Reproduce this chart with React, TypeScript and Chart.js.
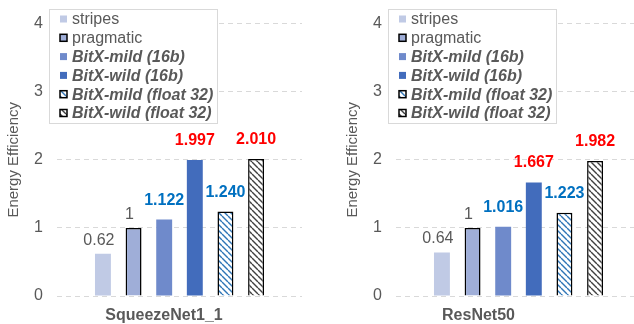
import React, { useEffect, useRef } from "react";
import { Chart, registerables } from "chart.js";

Chart.register(...registerables);

// ---------- data ----------
const CATEGORIES = ["SqueezeNet1_1", "ResNet50"];
const SERIES = [
  "stripes",
  "pragmatic",
  "BitX-mild (16b)",
  "BitX-wild (16b)",
  "BitX-mild (float 32)",
  "BitX-wild (float 32)",
];
const SQUEEZENET_VALUES = [0.62, 1, 1.122, 1.997, 1.24, 2.01];
const RESNET_VALUES = [0.64, 1, 1.016, 1.667, 1.223, 1.982];
const SQUEEZENET_LABELS = ["0.62", "1", "1.122", "1.997", "1.240", "2.010"];
const RESNET_LABELS = ["0.64", "1", "1.016", "1.667", "1.223", "1.982"];
const Y_MIN = 0;
const Y_MAX = 4;
const Y_STEP = 1;
const Y_TITLE = "Energy Efficiency";

// ---------- styles ----------
const FONT = "'Liberation Sans', Arial, sans-serif";
const GRAY = "#595959";

function makeHatch(color: string): CanvasPattern | string {
  const c = document.createElement("canvas");
  c.width = 6;
  c.height = 6;
  const ctx = c.getContext("2d");
  if (!ctx) return "#fff";
  ctx.fillStyle = "#ffffff";
  ctx.fillRect(0, 0, 6, 6);
  ctx.strokeStyle = color;
  ctx.lineWidth = 1.4;
  for (const o of [-6, 0, 6]) {
    ctx.beginPath();
    ctx.moveTo(o, 0);
    ctx.lineTo(o + 6, 6);
    ctx.stroke();
  }
  const p = ctx.createPattern(c, "repeat");
  return p || "#fff";
}

type SeriesStyle = {
  fill: () => any;
  border: string;
  borderWidth: number;
  labelColor: string;
  labelBold: boolean;
  italic: boolean;
};

const SERIES_STYLES: SeriesStyle[] = [
  { fill: () => "#C0CAE5", border: "#C0CAE5", borderWidth: 0, labelColor: GRAY, labelBold: false, italic: false },
  { fill: () => "#9FAED8", border: "#000000", borderWidth: 1.5, labelColor: GRAY, labelBold: false, italic: false },
  { fill: () => "#6F8ACB", border: "#6F8ACB", borderWidth: 0, labelColor: "#0070C0", labelBold: true, italic: true },
  { fill: () => "#426CBC", border: "#426CBC", borderWidth: 0, labelColor: "#FF0000", labelBold: true, italic: true },
  { fill: () => makeHatch("#2E75B6"), border: "#000000", borderWidth: 1.5, labelColor: "#0070C0", labelBold: true, italic: true },
  { fill: () => makeHatch("#404040"), border: "#000000", borderWidth: 1.5, labelColor: "#FF0000", labelBold: true, italic: true },
];

const valueLabelPlugin = {
  id: "valueLabels",
  afterDatasetsDraw(chart: any) {
    const ctx = chart.ctx;
    const texts: string[] = chart.options.plugins.valueLabels.texts;
    chart.data.datasets.forEach((ds: any, i: number) => {
      const meta = chart.getDatasetMeta(i);
      const bar = meta.data[0];
      if (!bar) return;
      const st = SERIES_STYLES[i];
      ctx.save();
      ctx.font = `${st.labelBold ? "bold " : ""}16px ${FONT}`;
      ctx.fillStyle = st.labelColor;
      ctx.textAlign = "center";
      ctx.textBaseline = "alphabetic";
      const gap = st.labelBold ? 15 : 9;
      const dx = st.labelBold ? 0 : -4;
      ctx.fillText(texts[i], bar.x + dx, bar.y - gap);
      ctx.restore();
    });
  },
};

const boxLegendPlugin = {
  id: "boxLegend",
  afterDraw(chart: any) {
    const ctx = chart.ctx;
    const x0 = 49;
    const y0 = 9;
    const w = 168;
    const h = 114;
    ctx.save();
    ctx.fillStyle = "#ffffff";
    ctx.fillRect(x0, y0, w, h);
    ctx.strokeStyle = "#D9D9D9";
    ctx.lineWidth = 1;
    ctx.strokeRect(x0 + 0.5, y0 + 0.5, w, h);
    chart.data.datasets.forEach((ds: any, i: number) => {
      const st = SERIES_STYLES[i];
      const cy = 19 + i * 18.8;
      const mx = 60;
      const ms = 7;
      ctx.fillStyle = ds.backgroundColor;
      ctx.fillRect(mx, cy - ms / 2, ms, ms);
      if (ds.borderWidth > 0) {
        ctx.strokeStyle = ds.borderColor;
        ctx.lineWidth = 1.5;
        ctx.strokeRect(mx, cy - ms / 2, ms, ms);
      }
      ctx.fillStyle = GRAY;
      ctx.font = `${st.italic ? "italic bold " : ""}16px ${FONT}`;
      ctx.textAlign = "left";
      ctx.textBaseline = "middle";
      ctx.fillText(ds.label, 72, cy + 1);
    });
    ctx.restore();
  },
};

function Panel(props: { category: string; values: number[]; texts: string[]; labelOffset: number; left: number }) {
  const ref = useRef<HTMLCanvasElement | null>(null);
  useEffect(() => {
    if (!ref.current) return;
    const chart = new Chart(ref.current, {
      type: "bar",
      data: {
        labels: [props.category],
        datasets: SERIES.map((name, i) => ({
          label: name,
          data: [props.values[i]],
          backgroundColor: SERIES_STYLES[i].fill(),
          borderColor: SERIES_STYLES[i].border,
          borderWidth: SERIES_STYLES[i].borderWidth,
          categoryPercentage: 0.75,
          barPercentage: 0.52,
        })),
      },
      options: {
        animation: false,
        responsive: false,
        devicePixelRatio: 1,
        layout: { padding: { top: 22, right: 18, bottom: 0, left: 0 } },
        plugins: {
          legend: { display: false },
          tooltip: { enabled: false },
          valueLabels: { texts: props.texts },
        } as any,
        scales: {
          x: {
            grid: { display: false },
            border: { display: false },
            ticks: {
              color: GRAY,
              font: { family: FONT, size: 16, weight: "bold" },
              padding: 2,
              labelOffset: props.labelOffset,
            },
            afterFit: (s: any) => {
              s.height = 28;
            },
          },
          y: {
            min: Y_MIN,
            max: Y_MAX,
            ticks: {
              stepSize: Y_STEP,
              color: GRAY,
              font: { family: FONT, size: 16 },
              padding: 14,
            },
            grid: { color: "#D9D9D9", lineWidth: 1, drawTicks: false },
            border: { display: false, dash: [5, 4] },
            title: {
              display: true,
              text: Y_TITLE,
              color: GRAY,
              font: { family: FONT, size: 15 },
              padding: { top: 5, bottom: 0 },
            },
            afterFit: (s: any) => {
              s.width = 57;
            },
          },
        },
      },
      plugins: [valueLabelPlugin, boxLegendPlugin],
    });
    return () => chart.destroy();
  }, []);
  return (
    <div style={{ position: "absolute", left: props.left, top: 0, width: 320, height: 324 }}>
      <canvas ref={ref} width={320} height={324} style={{ width: 320, height: 324, display: "block" }} />
    </div>
  );
}

export default function App() {
  return (
    <div
      style={{
        position: "absolute",
        left: 0,
        top: 0,
        width: 634,
        height: 324,
        overflow: "hidden",
        background: "#ffffff",
      }}
    >
      <Panel category={CATEGORIES[0]} values={SQUEEZENET_VALUES} texts={SQUEEZENET_LABELS} labelOffset={-15.5} left={0} />
      <Panel category={CATEGORIES[1]} values={RESNET_VALUES} texts={RESNET_LABELS} labelOffset={-40} left={339} />
    </div>
  );
}
